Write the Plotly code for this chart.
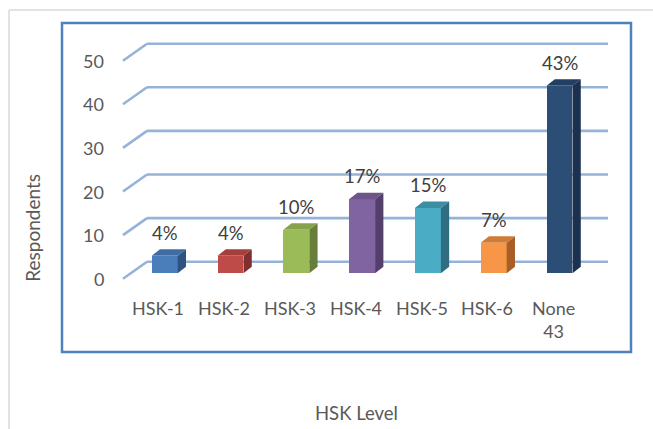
import plotly.graph_objects as go

# Respondents by HSK level
categories = ["HSK-1", "HSK-2", "HSK-3", "HSK-4", "HSK-5", "HSK-6", "None 43"]
respondents = [4, 4, 10, 17, 15, 7, 43]
tick_values = [0, 10, 20, 30, 40, 50]
tick_labels = ["0", "10", "20", "30", "40", "50"]

front_colors = ["#4A7EBB", "#BE4B48", "#9BBB59", "#8064A2", "#4BACC6", "#F79646", "#2C4D75"]
top_colors = ["#3F6CA3", "#A53F3C", "#86A34C", "#6D5589", "#3C8EA5", "#D27B35", "#223E62"]
side_colors = ["#2F5280", "#7F2F2D", "#677E3A", "#533F6A", "#2E6E80", "#A85F27", "#1C3150"]

total = sum(respondents)
pct_labels = [f"{round(v / total * 100)}%" for v in respondents]

# oblique projection of depth, in data units
BAR_W = 0.395
BAR_DX, BAR_DY = 0.126, 1.49          # bar depth
WALL_DX, WALL_DY = 0.365, 3.9         # floor depth (front edge -> back wall)
WALL_OFF = 2.66                       # back-wall gridline offset vs bar base
GRID_X0, GRID_X1 = -0.269, 6.737      # back-wall gridline extent

FONT = "Lato"
GREY = "#595959"

fig = go.Figure()

# back-wall gridlines with their side-wall diagonals (drawn beneath the bars)
shapes = []
for v in tick_values:
    yb = v + WALL_OFF
    shapes.append(dict(type="line", xref="x", yref="y", layer="below",
                       x0=GRID_X0, x1=GRID_X1, y0=yb, y1=yb,
                       line=dict(color="#95B3D7", width=2.6)))
    shapes.append(dict(type="line", xref="x", yref="y", layer="below",
                       x0=GRID_X0 - WALL_DX, x1=GRID_X0, y0=yb - WALL_DY, y1=yb,
                       line=dict(color="#95B3D7", width=2.6)))

# outer chart border and plot-area frame
shapes.append(dict(type="line", xref="paper", yref="paper", x0=9 / 653, x1=9 / 653,
                   y0=0, y1=1 - 10 / 429, line=dict(color="#D9D9D9", width=1.5)))
shapes.append(dict(type="line", xref="paper", yref="paper", x0=9 / 653, x1=1,
                   y0=1 - 10 / 429, y1=1 - 10 / 429, line=dict(color="#D9D9D9", width=1.5)))
shapes.append(dict(type="rect", xref="paper", yref="paper",
                   x0=62 / 653, x1=631 / 653, y0=1 - 352 / 429, y1=1 - 23 / 429,
                   line=dict(color="#4F81BD", width=2.5), layer="below"))

# front faces of the columns
xs = list(range(len(categories)))
fig.add_trace(go.Bar(x=xs, y=respondents, width=BAR_W,
                     marker=dict(color=front_colors, line=dict(width=0)),
                     hoverinfo="skip", showlegend=False))

# top and right-hand faces
for i, v in enumerate(respondents):
    xl, xr = i - BAR_W / 2, i + BAR_W / 2
    fig.add_trace(go.Scatter(
        x=[xl, xr, xr + BAR_DX, xl + BAR_DX, xl],
        y=[v, v, v + BAR_DY, v + BAR_DY, v],
        fill="toself", fillcolor=top_colors[i], mode="lines",
        line=dict(width=0, color=top_colors[i]), hoverinfo="skip", showlegend=False))
    fig.add_trace(go.Scatter(
        x=[xr, xr + BAR_DX, xr + BAR_DX, xr, xr],
        y=[v, v + BAR_DY, BAR_DY, 0, v],
        fill="toself", fillcolor=side_colors[i], mode="lines",
        line=dict(width=0, color=side_colors[i]), hoverinfo="skip", showlegend=False))

annotations = []
# value labels
for i, v in enumerate(respondents):
    annotations.append(dict(x=i, y=v, xref="x", yref="y", text=pct_labels[i],
                            showarrow=False, yanchor="middle", yshift=23,
                            font=dict(family=FONT, size=18.5, color="#404040")))
# category labels
for i, c in enumerate(categories):
    annotations.append(dict(x=i - 0.097, y=0, xref="x", yref="y",
                            text=c.replace(" ", "<br>"),
                            showarrow=False, yanchor="top", yshift=-22,
                            font=dict(family=FONT, size=18, color=GREY)))
# value-axis tick labels at the front of the side wall
for v, t in zip(tick_values, tick_labels):
    annotations.append(dict(x=GRID_X0 - WALL_DX, y=v + WALL_OFF - WALL_DY,
                            xref="x", yref="y", text=t, showarrow=False,
                            xanchor="right", yanchor="middle", xshift=-17,
                            font=dict(family=FONT, size=18, color=GREY)))
# axis titles
annotations.append(dict(x=31.7 / 653, y=1 - 228 / 429, xref="paper", yref="paper",
                        text="Respondents", textangle=-90, showarrow=False,
                        xanchor="center", yanchor="middle",
                        font=dict(family=FONT, size=19, color=GREY)))
annotations.append(dict(x=357 / 653, y=1 - 413 / 429, xref="paper", yref="paper",
                        text="HSK Level", showarrow=False,
                        xanchor="center", yanchor="middle",
                        font=dict(family=FONT, size=18.5, color=GREY)))

fig.update_layout(
    width=653, height=429,
    margin=dict(l=0, r=0, t=0, b=0),
    paper_bgcolor="white", plot_bgcolor="white",
    xaxis=dict(range=[-2.503, 7.421], visible=False, fixedrange=True),
    yaxis=dict(range=[-35.71, 62.68], visible=False, fixedrange=True),
    shapes=shapes, annotations=annotations,
    bargap=0,
)

fig.write_html("out.html")
